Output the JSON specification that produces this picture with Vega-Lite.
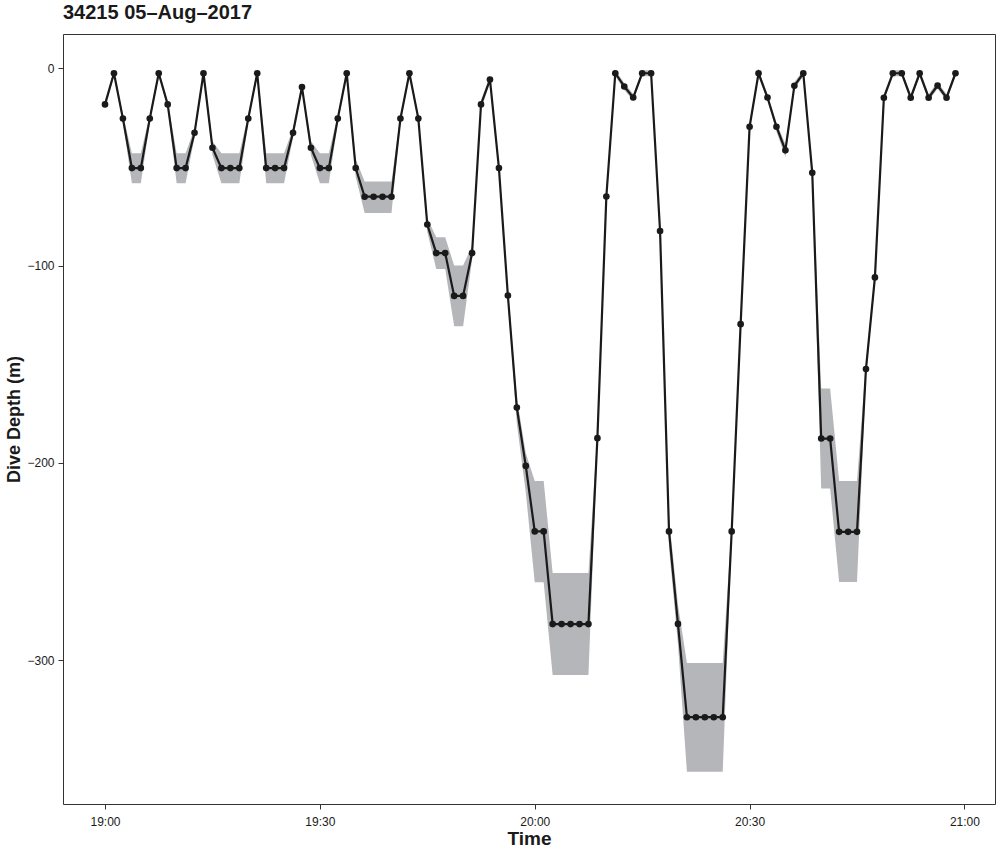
{
  "$schema": "https://vega.github.io/schema/vega-lite/v6.json",
  "autosize": "none",
  "padding": {"left": 63, "top": 34, "right": 3, "bottom": 44},
  "width": 932,
  "height": 770,
  "background": "white",
  "title": {"text": "34215 05–Aug–2017", "anchor": "start", "frame": "group", "fontSize": 20, "fontWeight": "bold", "font": "Liberation Sans", "color": "#1a1a1a", "baseline": "alphabetic", "offset": 17, "dy": 22},
  "data": {"values": [
    {"t": "2017-08-05 19:00:00", "depth": -18.3, "lo": -20, "hi": -16.5},
    {"t": "2017-08-05 19:01:15", "depth": -2.5, "lo": -4, "hi": -1},
    {"t": "2017-08-05 19:02:30", "depth": -25.5, "lo": -27.5, "hi": -23.5},
    {"t": "2017-08-05 19:03:45", "depth": -50.6, "lo": -58.3, "hi": -43.1},
    {"t": "2017-08-05 19:05:00", "depth": -50.6, "lo": -58.3, "hi": -43.1},
    {"t": "2017-08-05 19:06:15", "depth": -25.5, "lo": -27.5, "hi": -23.5},
    {"t": "2017-08-05 19:07:30", "depth": -2.5, "lo": -4, "hi": -1},
    {"t": "2017-08-05 19:08:45", "depth": -18.3, "lo": -20, "hi": -16.5},
    {"t": "2017-08-05 19:10:00", "depth": -50.6, "lo": -58.3, "hi": -43.1},
    {"t": "2017-08-05 19:11:15", "depth": -50.6, "lo": -58.3, "hi": -43.1},
    {"t": "2017-08-05 19:12:30", "depth": -32.7, "lo": -35, "hi": -30.5},
    {"t": "2017-08-05 19:13:45", "depth": -2.5, "lo": -4, "hi": -1},
    {"t": "2017-08-05 19:15:00", "depth": -40.3, "lo": -44, "hi": -37},
    {"t": "2017-08-05 19:16:15", "depth": -50.6, "lo": -58.3, "hi": -43.1},
    {"t": "2017-08-05 19:17:30", "depth": -50.6, "lo": -58.3, "hi": -43.1},
    {"t": "2017-08-05 19:18:45", "depth": -50.6, "lo": -58.3, "hi": -43.1},
    {"t": "2017-08-05 19:20:00", "depth": -25.5, "lo": -27.5, "hi": -23.5},
    {"t": "2017-08-05 19:21:15", "depth": -2.5, "lo": -4, "hi": -1},
    {"t": "2017-08-05 19:22:30", "depth": -50.6, "lo": -58.3, "hi": -43.1},
    {"t": "2017-08-05 19:23:45", "depth": -50.6, "lo": -58.3, "hi": -43.1},
    {"t": "2017-08-05 19:25:00", "depth": -50.6, "lo": -58.3, "hi": -43.1},
    {"t": "2017-08-05 19:26:15", "depth": -32.7, "lo": -35, "hi": -30.5},
    {"t": "2017-08-05 19:27:30", "depth": -9.5, "lo": -11, "hi": -8},
    {"t": "2017-08-05 19:28:45", "depth": -40.3, "lo": -44, "hi": -37},
    {"t": "2017-08-05 19:30:00", "depth": -50.6, "lo": -58.3, "hi": -43.1},
    {"t": "2017-08-05 19:31:15", "depth": -50.6, "lo": -58.3, "hi": -43.1},
    {"t": "2017-08-05 19:32:30", "depth": -25.5, "lo": -27.5, "hi": -23.5},
    {"t": "2017-08-05 19:33:45", "depth": -2.5, "lo": -4, "hi": -1},
    {"t": "2017-08-05 19:35:00", "depth": -50.6, "lo": -55, "hi": -46},
    {"t": "2017-08-05 19:36:15", "depth": -65.1, "lo": -73.3, "hi": -57.4},
    {"t": "2017-08-05 19:37:30", "depth": -65.1, "lo": -73.3, "hi": -57.4},
    {"t": "2017-08-05 19:38:45", "depth": -65.1, "lo": -73.3, "hi": -57.4},
    {"t": "2017-08-05 19:40:00", "depth": -65.1, "lo": -73.3, "hi": -57.4},
    {"t": "2017-08-05 19:41:15", "depth": -25.5, "lo": -27.5, "hi": -23.5},
    {"t": "2017-08-05 19:42:30", "depth": -2.5, "lo": -4, "hi": -1},
    {"t": "2017-08-05 19:43:45", "depth": -25.5, "lo": -27.5, "hi": -23.5},
    {"t": "2017-08-05 19:45:00", "depth": -79.2, "lo": -83, "hi": -76},
    {"t": "2017-08-05 19:46:15", "depth": -93.7, "lo": -101.7, "hi": -85.6},
    {"t": "2017-08-05 19:47:30", "depth": -93.7, "lo": -101.7, "hi": -85.6},
    {"t": "2017-08-05 19:48:45", "depth": -115.4, "lo": -130.8, "hi": -100},
    {"t": "2017-08-05 19:50:00", "depth": -115.4, "lo": -130.8, "hi": -100},
    {"t": "2017-08-05 19:51:15", "depth": -93.7, "lo": -97, "hi": -90},
    {"t": "2017-08-05 19:52:30", "depth": -18.3, "lo": -20.5, "hi": -16},
    {"t": "2017-08-05 19:53:45", "depth": -5.7, "lo": -7.5, "hi": -4},
    {"t": "2017-08-05 19:55:00", "depth": -50.6, "lo": -53, "hi": -48},
    {"t": "2017-08-05 19:56:15", "depth": -115.2, "lo": -118, "hi": -112},
    {"t": "2017-08-05 19:57:30", "depth": -172, "lo": -180, "hi": -167},
    {"t": "2017-08-05 19:58:45", "depth": -201.6, "lo": -215, "hi": -195},
    {"t": "2017-08-05 20:00:00", "depth": -234.8, "lo": -260.6, "hi": -209.2},
    {"t": "2017-08-05 20:01:15", "depth": -234.8, "lo": -260.6, "hi": -209.2},
    {"t": "2017-08-05 20:02:30", "depth": -281.8, "lo": -307.6, "hi": -255.9},
    {"t": "2017-08-05 20:03:45", "depth": -281.8, "lo": -307.6, "hi": -255.9},
    {"t": "2017-08-05 20:05:00", "depth": -281.8, "lo": -307.6, "hi": -255.9},
    {"t": "2017-08-05 20:06:15", "depth": -281.8, "lo": -307.6, "hi": -255.9},
    {"t": "2017-08-05 20:07:30", "depth": -281.8, "lo": -307.6, "hi": -255.9},
    {"t": "2017-08-05 20:08:45", "depth": -187.5, "lo": -190.5, "hi": -184.5},
    {"t": "2017-08-05 20:10:00", "depth": -65, "lo": -67, "hi": -63},
    {"t": "2017-08-05 20:11:15", "depth": -2.5, "lo": -4, "hi": -1},
    {"t": "2017-08-05 20:12:30", "depth": -9.2, "lo": -11, "hi": -7.5},
    {"t": "2017-08-05 20:13:45", "depth": -14.8, "lo": -16.5, "hi": -13},
    {"t": "2017-08-05 20:15:00", "depth": -2.5, "lo": -4, "hi": -1},
    {"t": "2017-08-05 20:16:15", "depth": -2.5, "lo": -4, "hi": -1},
    {"t": "2017-08-05 20:17:30", "depth": -82.5, "lo": -84.5, "hi": -80.5},
    {"t": "2017-08-05 20:18:45", "depth": -234.8, "lo": -243, "hi": -228},
    {"t": "2017-08-05 20:20:00", "depth": -281.7, "lo": -292, "hi": -272},
    {"t": "2017-08-05 20:21:15", "depth": -329, "lo": -356.6, "hi": -301.5},
    {"t": "2017-08-05 20:22:30", "depth": -329, "lo": -356.6, "hi": -301.5},
    {"t": "2017-08-05 20:23:45", "depth": -329, "lo": -356.6, "hi": -301.5},
    {"t": "2017-08-05 20:25:00", "depth": -329, "lo": -356.6, "hi": -301.5},
    {"t": "2017-08-05 20:26:15", "depth": -329, "lo": -356.6, "hi": -301.5},
    {"t": "2017-08-05 20:27:30", "depth": -234.8, "lo": -238, "hi": -231.5},
    {"t": "2017-08-05 20:28:45", "depth": -129.7, "lo": -132.5, "hi": -127},
    {"t": "2017-08-05 20:30:00", "depth": -29.6, "lo": -31.5, "hi": -27.5},
    {"t": "2017-08-05 20:31:15", "depth": -2.5, "lo": -4, "hi": -1},
    {"t": "2017-08-05 20:32:30", "depth": -14.8, "lo": -16.5, "hi": -13},
    {"t": "2017-08-05 20:33:45", "depth": -29.6, "lo": -32, "hi": -27.5},
    {"t": "2017-08-05 20:35:00", "depth": -41.6, "lo": -45, "hi": -38.5},
    {"t": "2017-08-05 20:36:15", "depth": -8.9, "lo": -10.5, "hi": -7},
    {"t": "2017-08-05 20:37:30", "depth": -2.5, "lo": -4, "hi": -1},
    {"t": "2017-08-05 20:38:45", "depth": -53, "lo": -56, "hi": -50},
    {"t": "2017-08-05 20:40:00", "depth": -187.7, "lo": -213, "hi": -162.3},
    {"t": "2017-08-05 20:41:15", "depth": -187.7, "lo": -213, "hi": -162.3},
    {"t": "2017-08-05 20:42:30", "depth": -235, "lo": -260.5, "hi": -209.2},
    {"t": "2017-08-05 20:43:45", "depth": -235, "lo": -260.5, "hi": -209.2},
    {"t": "2017-08-05 20:45:00", "depth": -235, "lo": -260.5, "hi": -209.2},
    {"t": "2017-08-05 20:46:15", "depth": -152.5, "lo": -156, "hi": -149},
    {"t": "2017-08-05 20:47:30", "depth": -106, "lo": -109, "hi": -103},
    {"t": "2017-08-05 20:48:45", "depth": -14.9, "lo": -16.5, "hi": -13},
    {"t": "2017-08-05 20:50:00", "depth": -2.5, "lo": -4, "hi": -1},
    {"t": "2017-08-05 20:51:15", "depth": -2.5, "lo": -4, "hi": -1},
    {"t": "2017-08-05 20:52:30", "depth": -14.9, "lo": -16.5, "hi": -13},
    {"t": "2017-08-05 20:53:45", "depth": -2.5, "lo": -4, "hi": -1},
    {"t": "2017-08-05 20:55:00", "depth": -14.9, "lo": -16.5, "hi": -13},
    {"t": "2017-08-05 20:56:15", "depth": -8.7, "lo": -10.3, "hi": -7},
    {"t": "2017-08-05 20:57:30", "depth": -14.9, "lo": -16.5, "hi": -13},
    {"t": "2017-08-05 20:58:45", "depth": -2.5, "lo": -4, "hi": -1}
  ]},
  "encoding": {
    "x": {
      "field": "t", "type": "temporal", "title": "Time",
      "scale": {"domain": [
        {"year": 2017, "month": 8, "date": 5, "hours": 18, "minutes": 54, "seconds": 8},
        {"year": 2017, "month": 8, "date": 5, "hours": 21, "minutes": 4, "seconds": 16}
      ], "nice": false},
      "axis": {
        "format": "%H:%M",
        "values": [
          {"year": 2017, "month": 8, "date": 5, "hours": 19, "minutes": 0},
          {"year": 2017, "month": 8, "date": 5, "hours": 19, "minutes": 30},
          {"year": 2017, "month": 8, "date": 5, "hours": 20, "minutes": 0},
          {"year": 2017, "month": 8, "date": 5, "hours": 20, "minutes": 30},
          {"year": 2017, "month": 8, "date": 5, "hours": 21, "minutes": 0}
        ],
        "labelPadding": 7, "titlePadding": 2, "titleFontSize": 19
      }
    }
  },
  "layer": [
    {
      "mark": {"type": "area", "color": "#b5b6ba", "opacity": 1},
      "encoding": {
        "y": {"field": "lo", "type": "quantitative"},
        "y2": {"field": "hi"}
      }
    },
    {
      "mark": {"type": "line", "color": "#1a1a1a", "strokeWidth": 2.2},
      "encoding": {
        "y": {"field": "depth", "type": "quantitative", "title": "Dive Depth (m)",
          "scale": {"domain": [-373, 17.4], "nice": false, "zero": false},
          "axis": {"values": [0, -100, -200, -300], "labelPadding": 4, "titlePadding": 3, "titleFontSize": 18}}
      }
    },
    {
      "mark": {"type": "point", "filled": true, "color": "#1a1a1a", "size": 44, "opacity": 1},
      "encoding": {
        "y": {"field": "depth", "type": "quantitative"}
      }
    }
  ],
  "config": {
    "view": {"stroke": "#333333", "strokeWidth": 1},
    "axis": {
      "grid": false, "domain": false, "ticks": true, "tickSize": 5, "tickColor": "#333333", "tickWidth": 1,
      "labelFont": "Liberation Sans", "labelFontSize": 12, "labelColor": "#1a1a1a",
      "titleFont": "Liberation Sans", "titleFontWeight": "bold", "titleColor": "#1a1a1a"
    }
  }
}
